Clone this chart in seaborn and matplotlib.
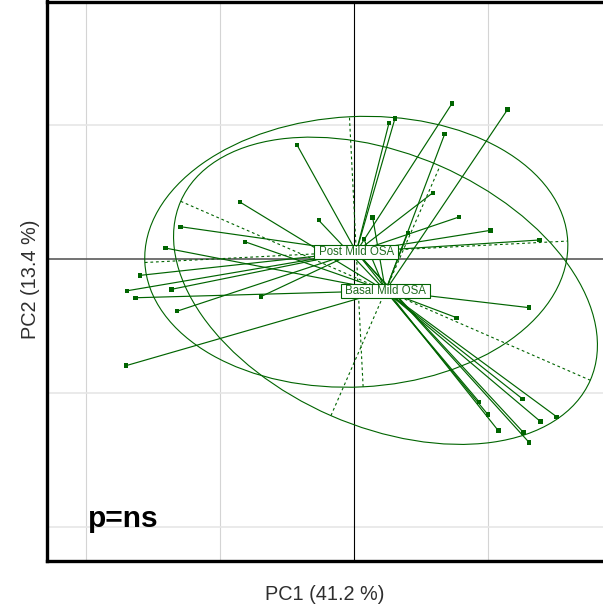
import numpy as np
import pandas as pd
import matplotlib
matplotlib.use("Agg")
import matplotlib.pyplot as plt
import seaborn as sns
from matplotlib.patches import Ellipse, Rectangle
from matplotlib.collections import LineCollection
from matplotlib.transforms import IdentityTransform

# ---------------- data (PCA units) ----------------
groups = ["Post Mild OSA", "Basal Mild OSA"]

post_x = [-1.296, -0.428, 0.259, 0.304, 0.729, 0.587, 0.780, 1.016, 1.383,
          -1.599, -1.696, -1.364, -0.698, -1.325, 1.075, 1.264, 1.304]
post_y = [0.241, 0.853, 1.015, 1.050, 1.160, 0.495, 0.313, 0.214, 0.142,
          -0.122, -0.237, -0.226, -0.281, -0.390, -1.281, -1.296, -1.368]

basal_x = [-0.853, -0.816, -1.410, -0.265, 0.137, 1.145, 0.674, -1.634, -1.704,
           1.306, 0.764, 1.257, 1.510, 1.391, 0.931, 0.996, 0.071, 0.399]
basal_y = [0.425, 0.129, 0.082, 0.289, 0.311, 1.117, 0.931, -0.289, -0.796,
           -0.363, -0.438, -1.045, -1.177, -1.214, -1.065, -1.159, 0.151, 0.192]

# group centres and 1.5-sd ellipses (width, height, angle in degrees)
centre_x = [0.015, 0.233]
centre_y = [0.054, -0.237]
ellipse_w = [3.16, 3.336]
ellipse_h = [2.018, 2.034]
ellipse_angle = [2.9, -23.6]

x_label = "PC1 (41.2 %)"
y_label = "PC2 (13.4 %)"
note = "p=ns"

grid_x = [-2, -1, 1]
grid_y = [-2, -1, 1]
xlim = (-2.297, 1.875)
ylim = (-2.25, 1.922)

# ---------------- styling ----------------
sns.set_style("white")
plt.rcParams["font.family"] = ["Liberation Sans", "DejaVu Sans"]
green = "#006400"
text_green = "#1e6b1e"

df = pd.DataFrame({
    "x": post_x + basal_x,
    "y": post_y + basal_y,
    "group": [groups[0]] * len(post_x) + [groups[1]] * len(basal_x),
})
cent = pd.DataFrame({"group": groups, "cx": centre_x, "cy": centre_y})
df = df.merge(cent, on="group")

W, H, DPI = 603, 613, 100
fig = plt.figure(figsize=(W / DPI, H / DPI), dpi=DPI)
fig.patch.set_facecolor("white")
ax = fig.add_axes([46.5 / W, (H - 560.5) / H, 559 / W, 559 / H])
ax.set_xlim(*xlim)
ax.set_ylim(*ylim)

# grid
for gx in grid_x:
    ax.axvline(gx, color="#d4d4d4", lw=0.8, zorder=0)
for gy in grid_y:
    ax.axhline(gy, color="#e6e6e6", lw=1.2, zorder=0)
ax.axhline(0, color="#5a5a5a", lw=1.2, zorder=0.5)
ax.axvline(0, color="black", lw=0.8, zorder=0.5)

# ellipses and their axes
for cx, cy, w, h, ang in zip(centre_x, centre_y, ellipse_w, ellipse_h, ellipse_angle):
    ax.add_patch(Ellipse((cx, cy), w, h, angle=ang, fill=False,
                         ec=green, lw=0.8, zorder=1))
    t = np.deg2rad(ang)
    a, b = w / 2, h / 2
    ax.plot([cx - a * np.cos(t), cx + a * np.cos(t)],
            [cy - a * np.sin(t), cy + a * np.sin(t)],
            color=green, lw=0.8, ls=(0, (2.5, 2.5)), zorder=1)
    ax.plot([cx + b * np.sin(t), cx - b * np.sin(t)],
            [cy - b * np.cos(t), cy + b * np.cos(t)],
            color=green, lw=0.8, ls=(0, (2.5, 2.5)), zorder=1)

# star lines point -> centre
segs = [[(r.x, r.y), (r.cx, r.cy)] for r in df.itertuples()]
ax.add_collection(LineCollection(segs, colors=green, linewidths=0.85, zorder=2))

# points
sns.scatterplot(data=df, x="x", y="y", hue="group",
                palette={g: green for g in groups}, marker="s", s=10,
                edgecolor=green, linewidth=0, legend=False, ax=ax, zorder=3)
ax.set_xlim(*xlim)
ax.set_ylim(*ylim)
ax.set_xticks([])
ax.set_yticks([])
ax.set_xlabel("")
ax.set_ylabel("")

# group labels
texts = []
for g, cx, cy in zip(groups, centre_x, centre_y):
    texts.append(ax.text(cx, cy, g, ha="center", va="center", fontsize=8.3,
                         color=text_green, zorder=5))

ax.text(-1.99, -2.0, note, fontsize=21.5, fontweight="bold", color="black",
        ha="left", va="baseline", zorder=5)

# axis titles
fig.text(325 / W, 1 - 594 / H, x_label, fontsize=14.3, color="#2e2e2e",
         ha="center", va="center")
fig.text(30 / W, 1 - 279 / H, y_label, fontsize=14.3, color="#2e2e2e",
         ha="center", va="center", rotation=90)

for sp in ax.spines.values():
    sp.set_color("black")
    sp.set_linewidth(2.4)
    sp.set_visible(True)

fig.canvas.draw()
r = fig.canvas.get_renderer()
for t in texts:
    bb = t.get_window_extent(r)
    mx, my = (bb.x0 + bb.x1) / 2, (bb.y0 + bb.y1) / 2
    w = bb.width + 9
    h = 13.5
    rect = Rectangle((mx - w / 2, my - h / 2), w, h, transform=IdentityTransform(),
                     fc="white", ec=green, lw=0.8, zorder=4)
    ax.add_artist(rect)

fig.savefig("out.png", dpi=DPI, facecolor="white")
